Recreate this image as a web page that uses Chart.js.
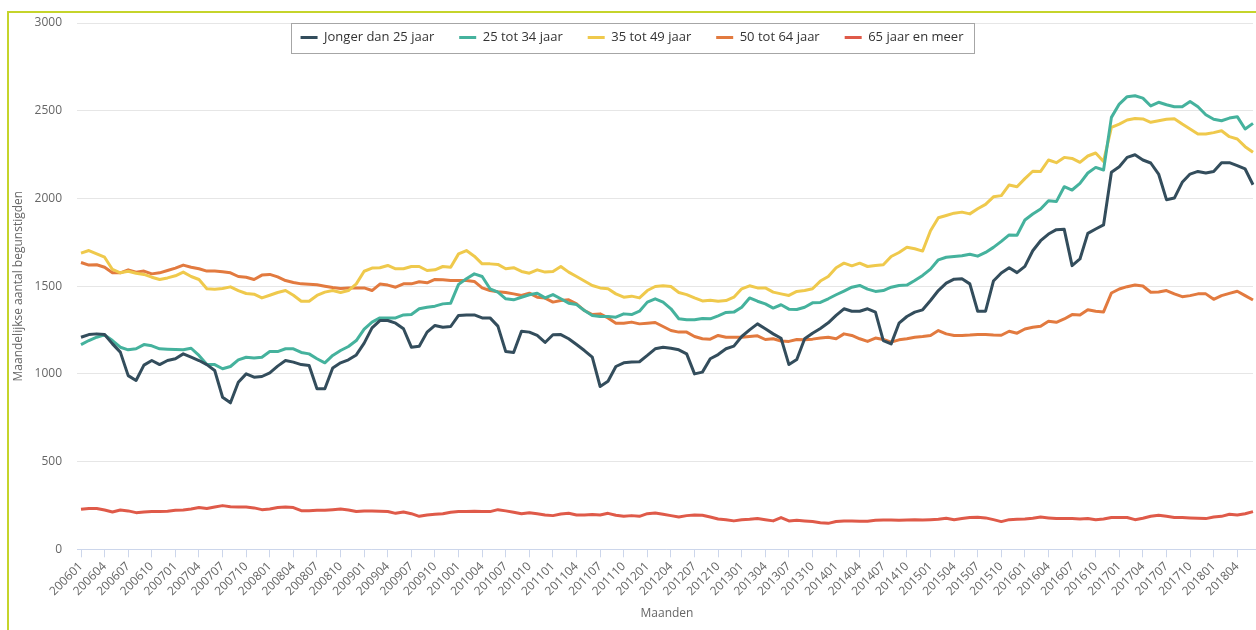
<!DOCTYPE html>
<html>
<head>
<meta charset="utf-8">
<script src="https://cdn.jsdelivr.net/npm/chart.js@4.4.1/dist/chart.umd.min.js"></script>
<style>
  html, body { margin: 0; padding: 0; background: #fff; overflow: hidden; }
  #kader { position: absolute; left: 7px; top: 11px; width: 1300px; height: 700px;
           border-left: 2px solid #c5d42b; border-top: 2px solid #c5d42b; }
  #grafiek { position: absolute; left: 0; top: 0; }
</style>
</head>
<body>
<div id="kader"></div>
<canvas id="grafiek" width="1256" height="630"></canvas>
<script>
// maanden 200601 - 201806
const maanden = [
  '200601','200602','200603','200604','200605','200606','200607','200608','200609','200610','200611','200612',
  '200701','200702','200703','200704','200705','200706','200707','200708','200709','200710','200711','200712',
  '200801','200802','200803','200804','200805','200806','200807','200808','200809','200810','200811','200812',
  '200901','200902','200903','200904','200905','200906','200907','200908','200909','200910','200911','200912',
  '201001','201002','201003','201004','201005','201006','201007','201008','201009','201010','201011','201012',
  '201101','201102','201103','201104','201105','201106','201107','201108','201109','201110','201111','201112',
  '201201','201202','201203','201204','201205','201206','201207','201208','201209','201210','201211','201212',
  '201301','201302','201303','201304','201305','201306','201307','201308','201309','201310','201311','201312',
  '201401','201402','201403','201404','201405','201406','201407','201408','201409','201410','201411','201412',
  '201501','201502','201503','201504','201505','201506','201507','201508','201509','201510','201511','201512',
  '201601','201602','201603','201604','201605','201606','201607','201608','201609','201610','201611','201612',
  '201701','201702','201703','201704','201705','201706','201707','201708','201709','201710','201711','201712',
  '201801','201802','201803','201804','201805','201806'
];

const jongerDan25 = [
  1209,1224,1228,1224,1171,1124,990,962,1050,1076,
  1053,1076,1086,1114,1095,1076,1053,1019,867,835,
  952,1000,981,985,1006,1044,1076,1067,1053,1048,
  915,915,1034,1063,1080,1108,1175,1262,1304,1304,
  1289,1257,1152,1158,1238,1276,1266,1270,1333,1336,
  1336,1319,1319,1272,1127,1122,1243,1238,1219,1179,
  1223,1224,1200,1167,1133,1095,928,958,1042,1063,
  1067,1069,1105,1143,1152,1146,1137,1114,1000,1010,
  1086,1110,1143,1158,1213,1251,1285,1257,1228,1203,
  1053,1082,1200,1232,1259,1291,1333,1371,1357,1357,
  1371,1352,1190,1171,1289,1327,1352,1365,1418,1475,
  1517,1540,1542,1513,1357,1357,1529,1575,1605,1577,
  1613,1702,1759,1797,1822,1824,1617,1655,1801,1826,
  1849,2149,2181,2234,2249,2219,2202,2139,1993,2002,
  2092,2139,2154,2145,2154,2204,2204,2187,2168,2078
];

const van25tot34 = [
  1167,1190,1209,1222,1190,1152,1137,1143,1167,1160,
  1143,1141,1139,1137,1146,1105,1053,1053,1029,1042,
  1080,1095,1091,1095,1127,1127,1143,1143,1122,1114,
  1086,1063,1105,1133,1156,1190,1255,1295,1319,1319,
  1319,1336,1338,1371,1380,1386,1399,1403,1510,1542,
  1570,1555,1485,1466,1428,1422,1437,1451,1460,1433,
  1452,1428,1403,1395,1361,1333,1327,1327,1323,1342,
  1338,1357,1409,1428,1409,1371,1314,1308,1308,1316,
  1314,1331,1350,1352,1380,1433,1414,1399,1375,1394,
  1369,1367,1380,1405,1407,1428,1451,1472,1494,1504,
  1483,1470,1475,1494,1504,1506,1532,1561,1597,1650,
  1665,1669,1673,1682,1671,1692,1721,1755,1792,1790,
  1877,1911,1940,1987,1982,2067,2048,2086,2145,2177,
  2162,2462,2538,2580,2585,2572,2527,2548,2534,2523,
  2523,2553,2523,2477,2451,2443,2458,2466,2396,2428
];

const van35tot49 = [
  1688,1703,1684,1665,1595,1576,1585,1574,1567,1551,
  1538,1547,1559,1580,1555,1538,1485,1483,1487,1496,
  1475,1458,1454,1433,1448,1464,1475,1448,1414,1414,
  1447,1466,1475,1464,1475,1513,1585,1603,1605,1618,
  1599,1599,1612,1612,1589,1593,1612,1608,1684,1703,
  1671,1627,1627,1624,1599,1605,1584,1574,1593,1580,
  1584,1612,1580,1555,1529,1504,1490,1485,1456,1437,
  1443,1433,1475,1498,1502,1498,1464,1452,1433,1416,
  1420,1414,1418,1437,1485,1502,1490,1490,1466,1456,
  1447,1470,1475,1485,1529,1555,1605,1631,1616,1631,
  1612,1618,1622,1669,1692,1722,1713,1700,1816,1890,
  1903,1916,1922,1912,1941,1966,2009,2016,2077,2067,
  2113,2155,2154,2219,2204,2234,2228,2206,2242,2259,
  2211,2405,2424,2447,2456,2453,2434,2443,2451,2454,
  2424,2396,2367,2367,2375,2386,2352,2339,2295,2263
];

const van50tot64 = [
  1635,1620,1622,1608,1576,1576,1593,1580,1586,1570,
  1576,1589,1603,1620,1608,1599,1586,1586,1582,1576,
  1555,1551,1538,1563,1567,1553,1532,1521,1513,1511,
  1508,1500,1492,1487,1489,1490,1490,1475,1512,1506,
  1494,1513,1513,1525,1519,1538,1536,1532,1532,1532,
  1527,1490,1475,1468,1464,1456,1447,1460,1437,1432,
  1409,1418,1422,1399,1361,1338,1342,1319,1289,1289,
  1295,1285,1289,1293,1270,1247,1238,1238,1213,1200,
  1198,1219,1209,1209,1209,1213,1217,1196,1200,1187,
  1185,1196,1194,1198,1204,1209,1200,1228,1219,1200,
  1185,1204,1196,1181,1194,1200,1209,1213,1219,1247,
  1228,1219,1219,1221,1224,1224,1221,1220,1243,1232,
  1256,1266,1272,1300,1294,1313,1338,1336,1366,1357,
  1353,1461,1484,1497,1507,1501,1465,1467,1475,1456,
  1440,1446,1456,1456,1425,1446,1459,1471,1446,1421
];

const van65enMeer = [
  228,233,233,224,213,224,219,209,213,215,
  215,217,222,224,230,238,233,241,249,243,
  241,241,236,226,230,238,241,238,220,220,
  222,222,226,230,224,215,219,219,217,215,
  205,213,203,188,196,200,203,211,215,215,
  217,215,215,226,219,211,203,209,203,196,
  192,201,205,196,196,198,196,205,194,188,
  192,188,203,207,200,192,184,192,196,194,
  184,173,169,162,169,171,175,169,162,181,
  162,165,162,158,152,148,158,162,162,160,
  160,165,167,167,165,167,169,167,169,171,
  177,169,175,181,183,179,169,158,169,171,
  173,177,184,179,175,175,175,173,175,169,
  173,181,181,181,169,177,188,194,188,181,
  181,179,177,175,184,188,200,196,203,215
];

const reeksNamen = ['Jonger dan 25 jaar', '25 tot 34 jaar', '35 tot 49 jaar', '50 tot 64 jaar', '65 jaar en meer'];
const reeksKleuren = ['#334D5C', '#45B29D', '#EFC94C', '#E27A3F', '#DF5A49'];
const reeksData = [jongerDan25, van25tot34, van35tot49, van50tot64, van65enMeer];

Chart.defaults.font.family = "'Open Sans', sans-serif";
Chart.defaults.color = '#666';

// legende zweeft over het plotgebied: weinig hoogte in de layout,
// daarna weer groot genoeg zodat de items niet weggeknipt worden
const legendeHoogte = {
    id: 'legendeHoogte',
    afterInit(chart) {
        const fit = chart.legend.fit;
        chart.legend.fit = function () {
            fit.call(this);
            this.height = 17;
        };
    },
    afterLayout(chart) {
        chart.legend.height = 60;
        chart.legend.bottom = chart.legend.top + 60;
    }
};

// kader rond de legende + x-as lijn tot aan de rand
const extraLijnen = {
    id: 'extraLijnen',
    afterDraw(chart) {
        const ctx = chart.ctx;
        const area = chart.chartArea;
        ctx.save();
        ctx.strokeStyle = '#ccd6eb';
        ctx.lineWidth = 1;
        ctx.beginPath();
        ctx.moveTo(area.left - 4, Math.round(area.bottom) + 0.5);
        ctx.lineTo(chart.width, Math.round(area.bottom) + 0.5);
        ctx.stroke();

        const boxes = chart.legend.legendHitBoxes;
        if (boxes && boxes.length) {
            const links = Math.min(...boxes.map(b => b.left)) - 10;
            const rechts = Math.max(...boxes.map(b => b.left + b.width)) + 10;
            const boven = boxes[0].top + boxes[0].height / 2 - 15;
            ctx.strokeStyle = '#a6a6a6';
            ctx.strokeRect(Math.round(links) + 0.5, Math.round(boven) + 0.5, Math.round(rechts - links), 30);
        }
        ctx.restore();
    }
};

new Chart(document.getElementById('grafiek'), {
    type: 'line',
    data: {
        labels: maanden,
        datasets: reeksData.map((d, i) => ({
            label: reeksNamen[i],
            data: d,
            borderColor: reeksKleuren[i],
            backgroundColor: reeksKleuren[i],
            borderWidth: 3,
            pointRadius: 0,
            tension: 0,
            fill: false,
            borderJoinStyle: 'round'
        }))
    },
    options: {
        responsive: false,
        animation: false,
        layout: { padding: { top: 6, left: 11, right: 3, bottom: 3 } },
        plugins: {
            tooltip: { enabled: false },
            legend: {
                position: 'top',
                labels: {
                    usePointStyle: true,
                    pointStyle: 'line',
                    pointStyleWidth: 17,
                    padding: 25,
                    color: '#333',
                    font: { size: 13 }
                }
            }
        },
        scales: {
            x: {
                afterFit(scale) {
                    scale.paddingLeft = 0;
                    scale.paddingRight = 0;
                },
                ticks: {
                    autoSkip: false,
                    minRotation: 45,
                    maxRotation: 45,
                    padding: 2,
                    font: { size: 12 },
                    callback: function (val, idx) {
                        return idx % 3 === 0 ? this.getLabelForValue(val) : '';
                    }
                },
                grid: {
                    drawOnChartArea: false,
                    drawTicks: true,
                    tickLength: 8,
                    color: ctx => (ctx.index % 3 === 0 ? '#ccd6eb' : 'rgba(0,0,0,0)')
                },
                border: { display: false },
                title: { display: true, text: 'Maanden', font: { size: 12 }, padding: { top: 6, bottom: 6 } }
            },
            y: {
                min: 0,
                max: 3000,
                afterFit(scale) {
                    scale.width = 70;
                },
                ticks: { stepSize: 500, padding: 15, font: { size: 12 }, callback: v => String(v) },
                grid: { color: '#e6e6e6', tickLength: 4 },
                border: { display: false },
                title: {
                    display: true,
                    text: 'Maandelijkse aantal begunstigden',
                    font: { size: 12 },
                    padding: { top: 0, bottom: 9 }
                }
            }
        }
    },
    plugins: [legendeHoogte, extraLijnen]
});
</script>
</body>
</html>
